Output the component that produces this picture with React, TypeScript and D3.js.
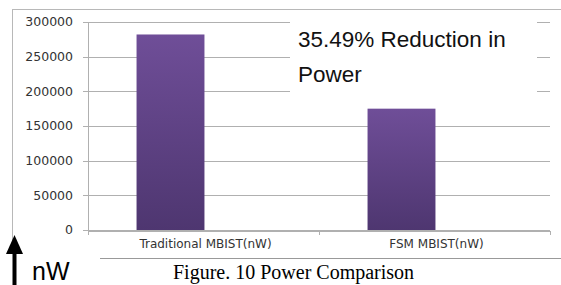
import React, { useEffect, useRef } from 'react';
import * as d3 from 'd3';

const categories = ['Traditional MBIST(nW)', 'FSM MBIST(nW)'];
const powerValues = [282000, 175000];
const yTicks = [0, 50000, 100000, 150000, 200000, 250000, 300000];
const noteLines = ['35.49% Reduction in', 'Power'];
const caption = 'Figure. 10 Power Comparison';

const width = 561;
const height = 285;

const App = () => {
  const ref = useRef<SVGSVGElement | null>(null);

  useEffect(() => {
    drawChart();
  }, []);

  function drawChart() {
    const svg = d3.select(ref.current);
    svg.selectAll('*').remove();

    const plot = { left: 88, right: 550, top: 22, bottom: 230 };

    const y = d3.scaleLinear().domain([0, 300000]).range([plot.bottom, plot.top]);

    // category bands for labels / ticks
    const x = d3.scaleBand().domain(categories).range([plot.left, plot.right]).padding(0);

    // bars sit a bit left of the band centre in the original
    const xBar = d3
      .scaleBand()
      .domain(categories)
      .range([plot.left - 33, plot.right - 33])
      .paddingInner(0.706)
      .paddingOuter(0.353);

    const defs = svg.append('defs');
    const grad = defs
      .append('linearGradient')
      .attr('id', 'barGrad')
      .attr('x1', 0).attr('y1', 0).attr('x2', 0).attr('y2', 1);
    grad.append('stop').attr('offset', '0%').attr('stop-color', '#6f4e98');
    grad.append('stop').attr('offset', '100%').attr('stop-color', '#4e3670');

    // outer frame (top + left)
    svg.append('line')
      .attr('x1', 12).attr('x2', width).attr('y1', 9.5).attr('y2', 9.5)
      .attr('stroke', '#b8b8b8');
    svg.append('line')
      .attr('x1', 12.5).attr('x2', 12.5).attr('y1', 9).attr('y2', 240)
      .attr('stroke', '#b8b8b8');

    // gridlines + y ticks
    const g = svg.append('g');
    g.selectAll('.grid')
      .data(yTicks)
      .enter()
      .append('line')
      .attr('x1', plot.left - 5)
      .attr('x2', plot.right)
      .attr('y1', (d) => Math.round(y(d)) + 0.5)
      .attr('y2', (d) => Math.round(y(d)) + 0.5)
      .attr('stroke', '#b0b0b0');

    g.selectAll('.ylab')
      .data(yTicks)
      .enter()
      .append('text')
      .attr('x', 73)
      .attr('y', (d) => y(d))
      .attr('dy', '0.35em')
      .attr('text-anchor', 'end')
      .style('font-family', 'DejaVu Sans')
      .style('font-size', '12.5px')
      .style('fill', '#333')
      .text((d) => d);

    // y axis line
    svg.append('line')
      .attr('x1', plot.left + 0.5).attr('x2', plot.left + 0.5)
      .attr('y1', plot.top).attr('y2', plot.bottom + 1)
      .attr('stroke', '#b0b0b0');

    // bars
    svg.selectAll('.bar')
      .data(powerValues)
      .enter()
      .append('rect')
      .attr('x', (_, i) => xBar(categories[i]))
      .attr('y', (d) => y(d))
      .attr('width', xBar.bandwidth())
      .attr('height', (d) => y(0) - y(d))
      .style('fill', 'url(#barGrad)');

    // x axis line + ticks
    svg.append('line')
      .attr('x1', plot.left).attr('x2', plot.right)
      .attr('y1', plot.bottom + 1.5).attr('y2', plot.bottom + 1.5)
      .attr('stroke', '#b0b0b0');
    const xTickPos = [plot.left, ...categories.map((c) => (x(c) || 0) + x.bandwidth())];
    svg.selectAll('.xtick')
      .data(xTickPos)
      .enter()
      .append('line')
      .attr('x1', (d) => d + 0.5).attr('x2', (d) => d + 0.5)
      .attr('y1', plot.bottom + 1).attr('y2', plot.bottom + 5)
      .attr('stroke', '#b0b0b0');

    svg.selectAll('.xlab')
      .data(categories)
      .enter()
      .append('text')
      .attr('x', (d) => (x(d) || 0) + x.bandwidth() / 2 + 2)
      .attr('y', 248)
      .attr('text-anchor', 'middle')
      .style('font-family', 'DejaVu Sans')
      .style('font-size', '12px')
      .style('fill', '#333')
      .text((d) => d);

    // annotation box
    svg.append('rect')
      .attr('x', 290).attr('y', 12).attr('width', 247).attr('height', 88)
      .style('fill', '#fff');
    svg.selectAll('.note')
      .data(noteLines)
      .enter()
      .append('text')
      .attr('x', 298)
      .attr('y', (_, i) => 47 + i * 35)
      .style('font-family', 'Liberation Sans')
      .style('font-size', '22.5px')
      .style('fill', '#111')
      .text((d) => d);

    // caption separator + caption
    svg.append('line')
      .attr('x1', 100).attr('x2', width).attr('y1', 258.5).attr('y2', 258.5)
      .attr('stroke', '#999');
    svg.append('text')
      .attr('x', 173)
      .attr('y', 279)
      .style('font-family', 'Liberation Serif')
      .style('font-size', '20px')
      .style('fill', '#000')
      .text(caption);

    // unit arrow
    svg.append('rect')
      .attr('x', 12.5).attr('y', 250).attr('width', 4).attr('height', 35)
      .style('fill', '#000');
    svg.append('path')
      .attr('d', 'M14.5,235 L23,254 L6,254 Z')
      .style('fill', '#000');
    svg.append('text')
      .attr('x', 32)
      .attr('y', 280)
      .style('font-family', 'Liberation Sans')
      .style('font-size', '25px')
      .style('fill', '#000')
      .text('nW');
  }

  return (
    <svg
      ref={ref}
      width={width}
      height={height}
      style={{ position: 'absolute', left: 0, top: 0, background: '#fff' }}
    />
  );
};

export default App;
